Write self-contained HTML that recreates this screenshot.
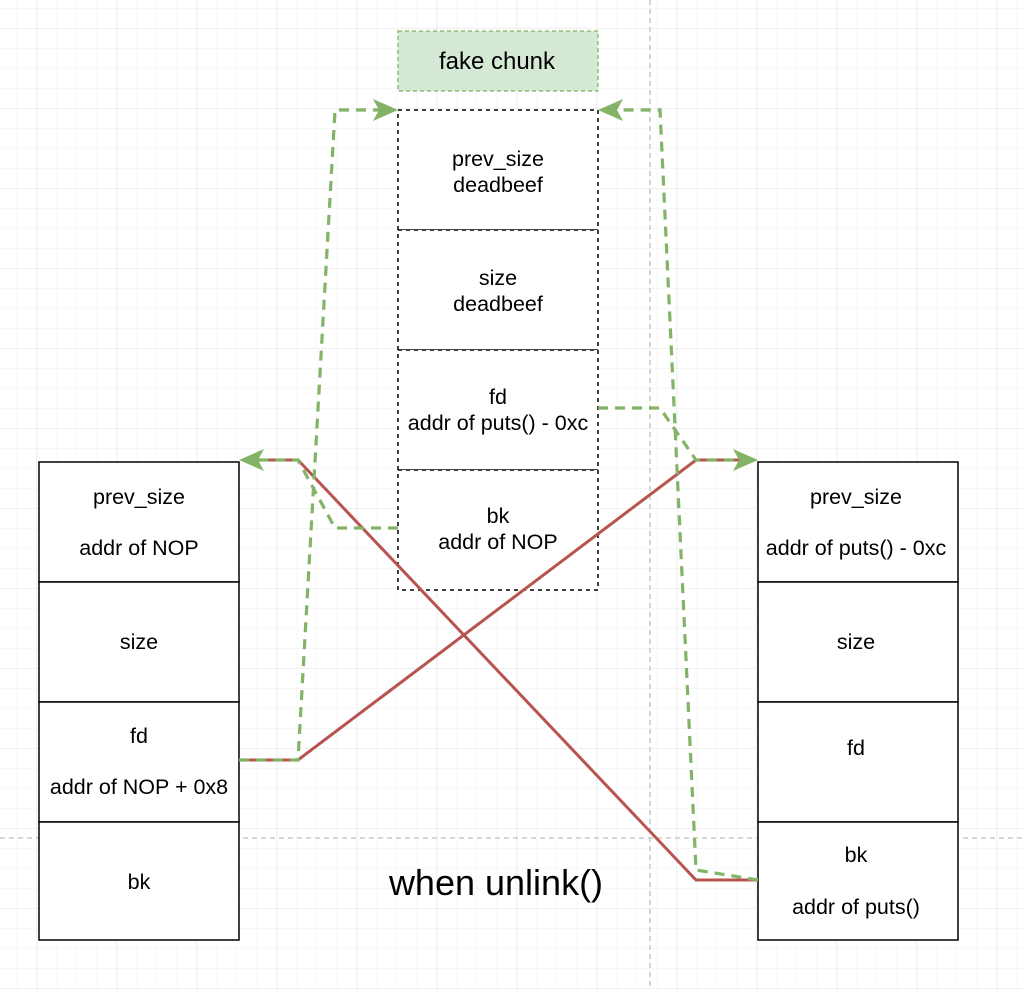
<!DOCTYPE html>
<html><head><style>
body{margin:0;width:1024px;height:990px;overflow:hidden;background:#fff;font-family:"Liberation Sans",Arial,sans-serif}
</style></head><body>
<svg width="1024" height="990" xmlns="http://www.w3.org/2000/svg" font-family="Liberation Sans, Arial, sans-serif">
<defs>
<pattern id="minor" width="20" height="20" patternUnits="userSpaceOnUse" x="16.7" y="8">
<path d="M0 0H20M0 0V20" stroke="#f1f1f1" stroke-width="1" fill="none"/></pattern>
<pattern id="major" width="80" height="80" patternUnits="userSpaceOnUse" x="36.7" y="28">
<path d="M0 0H80M0 0V80" stroke="#e2e2e2" stroke-width="1" fill="none"/></pattern>
</defs>
<rect width="1024" height="990" fill="url(#minor)"/>
<rect width="1024" height="990" fill="url(#major)"/>
<line x1="650" y1="0" x2="650" y2="990" stroke="#c0c0c0" stroke-width="1.3" stroke-dasharray="5,4"/>
<line x1="0" y1="838" x2="1024" y2="838" stroke="#c0c0c0" stroke-width="1.3" stroke-dasharray="5,4"/>

<rect x="398" y="31" width="200" height="60" fill="#d5e8d4" stroke="#82b366" stroke-width="1.3" stroke-dasharray="4,3"/>
<text x="497" y="69" font-size="24" text-anchor="middle">fake chunk</text>

<g fill="#fff" stroke="#000" stroke-width="1.5" stroke-dasharray="4,4">
<rect x="398" y="110" width="200" height="120"/><rect x="398" y="230" width="200" height="120"/>
<rect x="398" y="350" width="200" height="120"/><rect x="398" y="470" width="200" height="120"/>
</g>
<g fill="#fff" stroke="#000" stroke-width="1.5">
<rect x="39" y="462" width="200" height="120"/><rect x="39" y="582" width="200" height="120"/>
<rect x="39" y="702" width="200" height="120"/><rect x="39" y="822" width="200" height="118"/>
<rect x="758" y="462" width="200" height="120"/><rect x="758" y="582" width="200" height="120"/>
<rect x="758" y="702" width="200" height="120"/><rect x="758" y="822" width="200" height="118"/>
</g>
<g font-size="21.5" text-anchor="middle" fill="#000">
<text x="498" y="166">prev_size</text><text x="498" y="192">deadbeef</text>
<text x="498" y="285">size</text><text x="498" y="311">deadbeef</text>
<text x="498" y="404">fd</text><text x="498" y="430">addr of puts() - 0xc</text>
<text x="498" y="523">bk</text><text x="498" y="549">addr of NOP</text>
<text x="139" y="504">prev_size</text><text x="139" y="555">addr of NOP</text>
<text x="139" y="649">size</text>
<text x="139" y="743">fd</text><text x="139" y="794">addr of NOP + 0x8</text>
<text x="139" y="889">bk</text>
<text x="856" y="504">prev_size</text><text x="856" y="555">addr of puts() - 0xc</text>
<text x="856" y="649">size</text>
<text x="856" y="755">fd</text>
<text x="856" y="862">bk</text><text x="856" y="914">addr of puts()</text>
</g>
<text x="496" y="895" font-size="36" text-anchor="middle">when unlink()</text>

<g fill="none" stroke="#b85450" stroke-width="3">
<polyline points="758,880 696,880 298,460 255,460"/>
<polyline points="239,760 298,760 696,460 745,460"/>
</g>
<g fill="none" stroke="#82b366" stroke-width="3.2" stroke-dasharray="10,7">
<polyline points="239,760 298,760 335,110 385,110"/>
<polyline points="398,528 335,528 298,460 252,460"/>
<polyline points="598,408 660,408 696,460 745,460"/>
<polyline points="758,880 696,870 660,110 612,110"/>
</g>
<g fill="#82b366">
<path d="M398,110 L373,99 L379,110 L373,121Z"/>
<path d="M598,110 L623,99 L617,110 L623,121Z"/>
<path d="M239,460 L264,449 L258,460 L264,471Z"/>
<path d="M758,460 L733,449 L739,460 L733,471Z"/>
</g>
</svg>
</body></html>
